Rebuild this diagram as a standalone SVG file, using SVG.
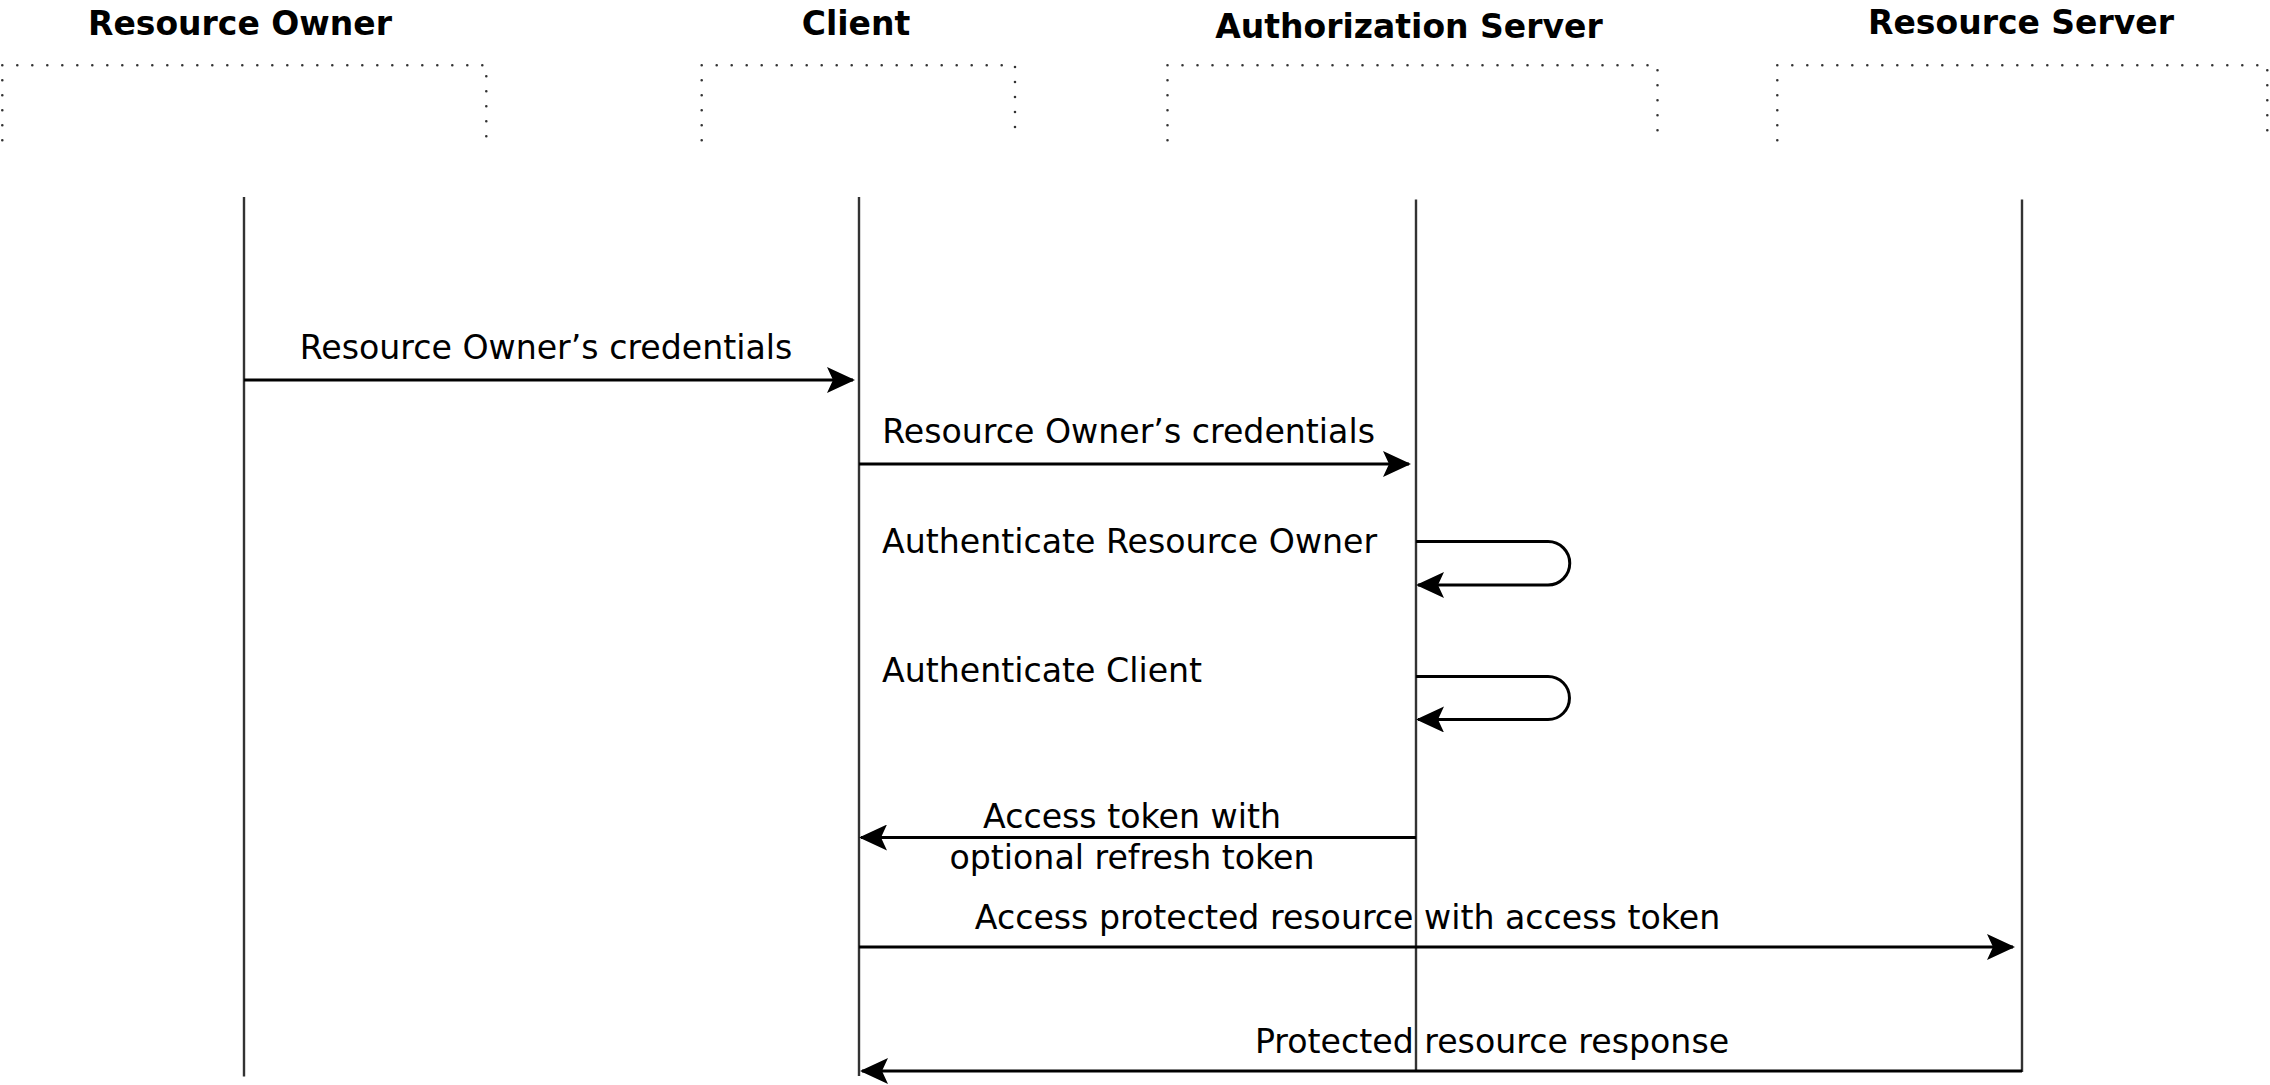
<svg xmlns="http://www.w3.org/2000/svg" width="2270" height="1085" viewBox="0 0 2270 1085">
  <style>
    .title { font-family: "DejaVu Sans", Verdana, sans-serif; font-weight: bold; font-size: 33px; fill: #000; text-anchor: middle; }
    .label { font-family: "DejaVu Sans", Verdana, sans-serif; font-size: 33.2px; fill: #000; }
    .mid { text-anchor: middle; }
    .box { fill: none; stroke: #333; stroke-width: 2.6; stroke-linecap: round; stroke-dasharray: 0 15; }
    .life { fill: none; stroke: #333; stroke-width: 2.4; }
    .msg { fill: none; stroke: #000; stroke-width: 3; marker-end: url(#arrow); }
  </style>
  <defs>
    <marker id="arrow" markerUnits="userSpaceOnUse" viewBox="0 0 28 26" refX="26" refY="13" markerWidth="28" markerHeight="26" orient="auto">
      <path d="M0,0 L28,13 L0,26 L6,13 Z" fill="#000"/>
    </marker>
  </defs>
  <rect width="2270" height="1085" fill="#fff"/>

  <g id="resource-owner">
    <text class="title" x="240" y="35">Resource Owner</text>
    <path class="box" d="M2.3,140.3 V65.3 H486.3 V138"/>
    <line class="life" x1="244" y1="197" x2="244" y2="1076.5"/>
  </g>

  <g id="client">
    <text class="title" x="856" y="35">Client</text>
    <path class="box" d="M701.7,140.3 V65.3 H1015 V128.5"/>
    <line class="life" x1="859" y1="197" x2="859" y2="1076"/>
  </g>

  <g id="authorization-server">
    <text class="title" x="1409" y="37.5">Authorization Server</text>
    <path class="box" d="M1167.5,140.3 V65.3 H1657.5 V131"/>
    <line class="life" x1="1416" y1="199.5" x2="1416" y2="1071"/>
  </g>

  <g id="resource-server">
    <text class="title" x="2021" y="33.5">Resource Server</text>
    <path class="box" d="M1777.3,140.3 V65.3 H2267.3 V131"/>
    <line class="life" x1="2022" y1="199.5" x2="2022" y2="1072"/>
  </g>

  <g id="connectors">
    <path id="m1" class="msg" d="M244,380 H853"/>
    <path id="m2" class="msg" d="M859,464 H1409"/>
    <path id="m3" class="msg" d="M1416,541.5 H1548 A21.75,21.75 0 0 1 1548,585 H1418"/>
    <path id="m4" class="msg" d="M1416,676.5 H1548 A21.5,21.5 0 0 1 1548,719.5 H1418"/>
    <path id="m5" class="msg" d="M1416,837.5 H861"/>
    <path id="m6" class="msg" d="M859,947 H2013"/>
    <path id="m7" class="msg" d="M2022,1071 H862"/>
  </g>

  <g id="labels">
    <text class="label mid" x="546" y="359">Resource Owner’s credentials</text>
    <text class="label mid" x="1128.6" y="443">Resource Owner’s credentials</text>
    <text class="label" x="882" y="553">Authenticate Resource Owner</text>
    <text class="label" x="882" y="682">Authenticate Client</text>
    <text class="label mid" x="1132" y="828">Access token with</text>
    <text class="label mid" x="1132" y="868.5">optional refresh token</text>
    <text class="label mid" x="1347.5" y="929">Access protected resource with access token</text>
    <text class="label mid" x="1492" y="1052.5">Protected resource response</text>
  </g>
</svg>
